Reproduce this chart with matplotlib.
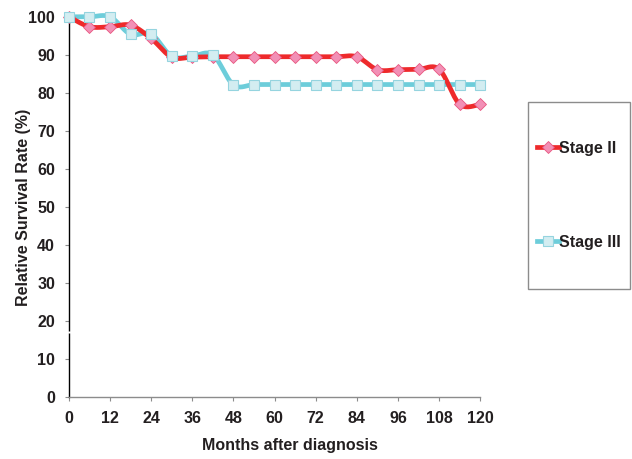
import numpy as np
import matplotlib.pyplot as plt
from matplotlib.patches import Rectangle
from matplotlib.lines import Line2D

plt.rcParams['font.family'] = ['Liberation Sans', 'DejaVu Sans']
plt.rcParams['font.weight'] = 'bold'

# Данные (месяцы и относительная выживаемость, %)
months = [0, 6, 12, 18, 24, 30, 36, 42, 48, 54, 60, 66, 72, 78, 84, 90, 96, 102, 108, 114, 120]
stage2 = [100, 97.4, 97.4, 97.8, 94.3, 89.4, 89.4, 89.5, 89.5, 89.5, 89.5, 89.5, 89.5, 89.5, 89.5,
          86.1, 86.1, 86.2, 86.2, 77.0, 77.0]
stage3 = [100, 100, 100, 95.4, 95.5, 89.6, 89.7, 90.0, 82.1, 82.2, 82.2, 82.2, 82.2, 82.2, 82.2,
          82.2, 82.2, 82.2, 82.2, 82.2, 82.2]
xticks = list(range(0, 121, 12))
yticks = list(range(0, 101, 10))

red = '#ee2a2b'
pink = '#f290b6'
blue = '#6dcdda'
sq_fill = '#d3edf1'
sq_edge = '#95d4df'
txt = '#231f20'
fs = 11.5


def smooth(x, y, n=20):
    # сглаживание как в Excel (Catmull-Rom через кривые Безье)
    x = np.asarray(x, float)
    y = np.asarray(y, float)
    px = np.concatenate([[x[0]], x, [x[-1]]])
    py = np.concatenate([[y[0]], y, [y[-1]]])
    t = np.linspace(0, 1, n)
    xs, ys = [], []
    for i in range(1, len(px) - 2):
        p0 = np.array([px[i], py[i]])
        p3 = np.array([px[i + 1], py[i + 1]])
        b1 = p0 + (np.array([px[i + 1], py[i + 1]]) - np.array([px[i - 1], py[i - 1]])) / 6
        b2 = p3 - (np.array([px[i + 2], py[i + 2]]) - np.array([px[i], py[i]])) / 6
        c = ((1 - t) ** 3)[:, None] * p0 + (3 * (1 - t) ** 2 * t)[:, None] * b1 \
            + (3 * (1 - t) * t ** 2)[:, None] * b2 + (t ** 3)[:, None] * p3
        xs.extend(c[:, 0])
        ys.extend(c[:, 1])
    return xs, ys


fig = plt.figure(figsize=(6.32, 4.59), dpi=100)
ax = fig.add_axes([0.109, 0.1344, 0.651, 0.829])

sx3, sy3 = smooth(months, stage3)
sx2, sy2 = smooth(months, stage2)
ax.plot(sx3, sy3, color=blue, lw=3.4, solid_capstyle='round', zorder=2, clip_on=False)
ax.plot(sx2, sy2, color=red, lw=3.4, solid_capstyle='round', zorder=3, clip_on=False)
ax.plot(months, stage2, ls='none', marker='D', ms=6.3, mfc=pink, mec='#e8557f', mew=0.6,
        zorder=4, clip_on=False)
ax.plot(months, stage3, ls='none', marker='s', ms=7.0, mfc=sq_fill, mec=sq_edge, mew=0.8,
        zorder=5, clip_on=False)

ax.set_xlim(0, 120)
ax.set_ylim(0, 100)
ax.set_xticks(xticks)
ax.set_yticks(yticks)
ax.spines['top'].set_visible(False)
ax.spines['right'].set_visible(False)
ax.spines['left'].set_color('black')
ax.spines['left'].set_linewidth(1.0)
ax.spines['bottom'].set_color('#8c8c8c')
ax.spines['bottom'].set_linewidth(1.0)
ax.tick_params(axis='both', length=3, width=0.8, color='#8c8c8c', labelsize=fs, labelcolor=txt)
ax.tick_params(axis='y', pad=7)
ax.tick_params(axis='x', pad=7)

# небольшой разрыв оси Y, как на исходнике
ax.plot([0, 0], [16.95, 17.5], color='white', lw=2, solid_capstyle='butt', zorder=6, clip_on=False)

ax.set_xlabel('Months after diagnosis', fontsize=fs, fontweight='bold', color=txt)
ax.set_ylabel('Relative Survival Rate (%)', fontsize=fs, fontweight='bold', color=txt)
ax.xaxis.set_label_coords(0.538, -0.106)
ax.yaxis.set_label_coords(-0.093, 0.5)

# Легенда в рамке справа
fig.add_artist(Rectangle((528 / 632, 170 / 459), 102 / 632, 187 / 459, transform=fig.transFigure,
                         fill=False, edgecolor='#8c8c8c', lw=1.0))
handles = [
    Line2D([], [], color=red, lw=3.4, marker='D', ms=6.3, mfc=pink, mec='#e8557f', mew=0.6),
    Line2D([], [], color=blue, lw=3.4, marker='s', ms=7.0, mfc=sq_fill, mec=sq_edge, mew=0.8),
]
fig.legend(handles, ['Stage II', 'Stage III'], loc='upper left', bbox_to_anchor=(537 / 632, 1 - 141 / 459),
           frameon=False, borderpad=0, borderaxespad=0, handlelength=1.35, handletextpad=0.05,
           labelspacing=4.95, prop={'size': fs, 'weight': 'bold'}, labelcolor=txt)

fig.savefig('out.png', dpi=100)
